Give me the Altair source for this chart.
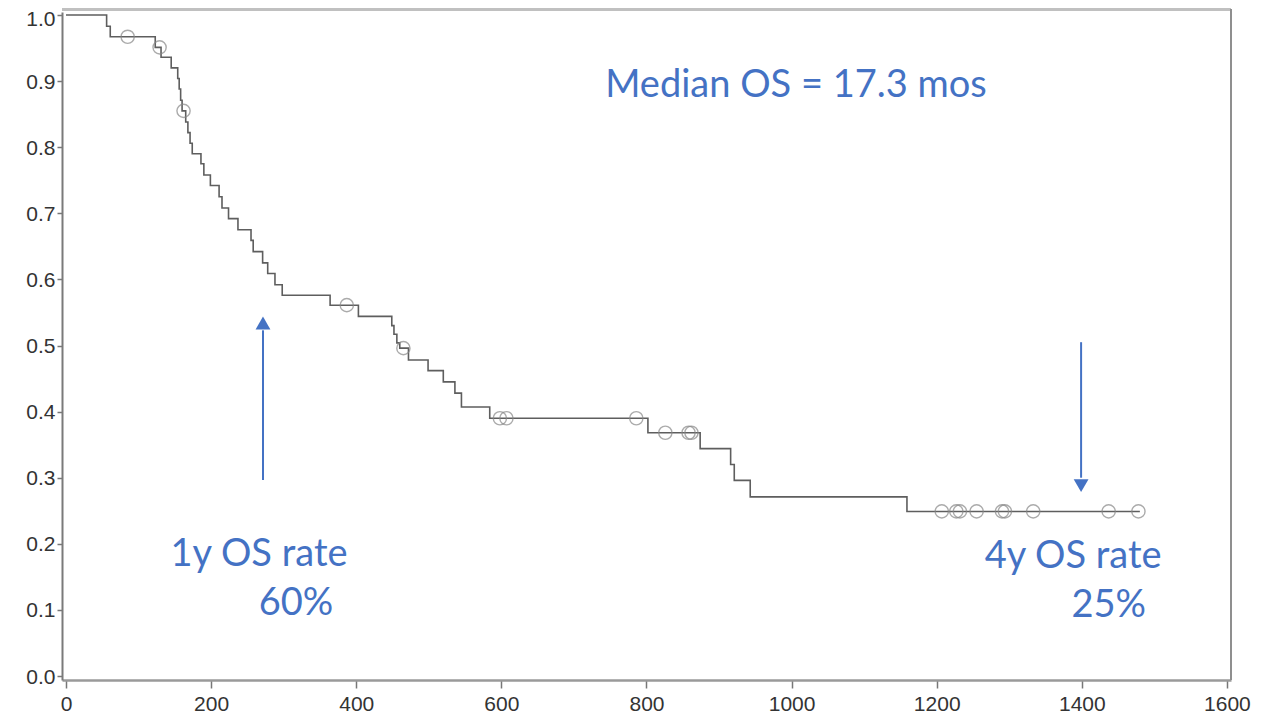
import altair as alt
import pandas as pd

# Kaplan-Meier step curve (days, survival probability)
event_days = [0, 56, 61, 123, 131, 145, 154, 156, 158, 160, 165, 168, 171, 174,
              186, 190, 199, 211, 215, 224, 237, 255, 258, 271, 278, 288, 298,
              364, 403, 449, 452, 456, 460, 472, 499, 520, 536, 545, 584,
              802, 874, 916, 921, 943, 1159, 1480]
survival = [1.0, 0.983, 0.967, 0.951, 0.936, 0.920, 0.904, 0.888, 0.871, 0.855,
            0.838, 0.822, 0.806, 0.790, 0.775, 0.758, 0.742, 0.725, 0.708, 0.692,
            0.675, 0.659, 0.642, 0.625, 0.609, 0.592, 0.576, 0.561, 0.544, 0.530,
            0.517, 0.504, 0.496, 0.478, 0.462, 0.445, 0.428, 0.407, 0.390, 0.368,
            0.344, 0.320, 0.296, 0.271, 0.249, 0.249]

# censored observations
censor_days = [85, 129, 162, 387, 465, 598, 607, 786, 826, 858, 862,
               1207, 1227, 1232, 1255, 1290, 1294, 1333, 1437, 1478]
censor_surv = [0.967, 0.951, 0.855, 0.561, 0.496, 0.390, 0.390, 0.390, 0.368,
               0.368, 0.368, 0.249, 0.249, 0.249, 0.249, 0.249, 0.249, 0.249,
               0.249, 0.249]

x_ticks = [0, 200, 400, 600, 800, 1000, 1200, 1400, 1600]
y_ticks = [0.0, 0.1, 0.2, 0.3, 0.4, 0.5, 0.6, 0.7, 0.8, 0.9, 1.0]

annot_text = ["Median OS = 17.3 mos", "1y OS rate", "60%", "4y OS rate", "25%"]
annot_day = [1006, 266, 317, 1388, 1437]
annot_surv = [0.876, 0.166, 0.092, 0.163, 0.089]

arrow_day = [271.5, 1399]
arrow_from = [0.2965, 0.505]
arrow_to = [0.523, 0.300]
head_surv = [0.534, 0.288]
head_shape = ["triangle-up", "triangle-down"]

W, H = 1169, 668
BLUE = "#4472C4"

curve = pd.DataFrame({"day": event_days, "surv": survival})
cens = pd.DataFrame({"day": censor_days, "surv": censor_surv})
annots = pd.DataFrame({"day": annot_day, "surv": annot_surv, "label": annot_text})
arrows = pd.DataFrame({"day": arrow_day, "s1": arrow_from, "s2": arrow_to,
                       "hs": head_surv, "shape": head_shape})

xs = alt.Scale(domain=[-5.5, 1605.6], nice=False, zero=False)
ys = alt.Scale(domain=[-0.006, 1.0045], nice=False, zero=False)

x_axis = alt.Axis(values=x_ticks, format="d", title=None, grid=False,
                  labelFont="Liberation Sans", labelFontSize=21, labelColor="#333333",
                  tickColor="#777", tickSize=8, tickWidth=1.5,
                  domainColor="#9a9a9a", domainWidth=2.5, labelPadding=5)
y_axis = alt.Axis(values=y_ticks, format=".1f", title=None, grid=False,
                  labelFont="Liberation Sans", labelFontSize=21, labelColor="#333333",
                  tickColor="#777", tickSize=5, tickWidth=1.5,
                  labelOffset={"condition": {"test": "datum.value >= 0.99", "value": 5},
                               "value": 1},
                  domainColor="#7a7a7a", domainWidth=2, labelPadding=2)

X = alt.X("day:Q", scale=xs, axis=x_axis)
Y = alt.Y("surv:Q", scale=ys, axis=y_axis)

top_line = alt.Chart(curve).mark_rule(color="#c0c0c0", strokeWidth=4).encode(
    y=alt.value(-3), x=alt.value(0), x2=alt.value(W))

right_line = alt.Chart(curve).mark_rule(color="#8f8f8f", strokeWidth=2).encode(
    x=alt.value(W), y=alt.value(-3), y2=alt.value(H))

km = alt.Chart(curve).mark_line(interpolate="step-after", color="#5e5e5e",
                                strokeWidth=1.6).encode(x=X, y=Y)

pts = alt.Chart(cens).mark_point(shape="circle", size=175, color="#888888",
                                 strokeWidth=1.4, filled=False).encode(x=X, y=Y)

arrow_lines = alt.Chart(arrows).mark_rule(color=BLUE, strokeWidth=2).encode(
    x=alt.X("day:Q", scale=xs, axis=x_axis),
    y=alt.Y("s1:Q", scale=ys, axis=y_axis), y2="s2:Q")

heads = alt.Chart(arrows).mark_point(filled=True, color=BLUE, size=220, opacity=1).encode(
    x=alt.X("day:Q", scale=xs, axis=x_axis),
    y=alt.Y("hs:Q", scale=ys, axis=y_axis),
    shape=alt.Shape("shape:N", scale=None))

texts = alt.Chart(annots).mark_text(font="Lato", fontSize=38, color=BLUE,
                                    align="center", baseline="alphabetic").encode(
    x=X, y=Y, text="label:N")

chart = alt.layer(top_line, right_line, km, pts, arrow_lines, heads, texts).properties(
    width=W, height=H,
    autosize=alt.AutoSizeParams(type="none"),
    padding={"left": 54, "top": 4, "right": 30, "bottom": 44},
).configure_view(stroke=None)

chart.save("out.html", embed_options={"renderer": "svg", "actions": False})
